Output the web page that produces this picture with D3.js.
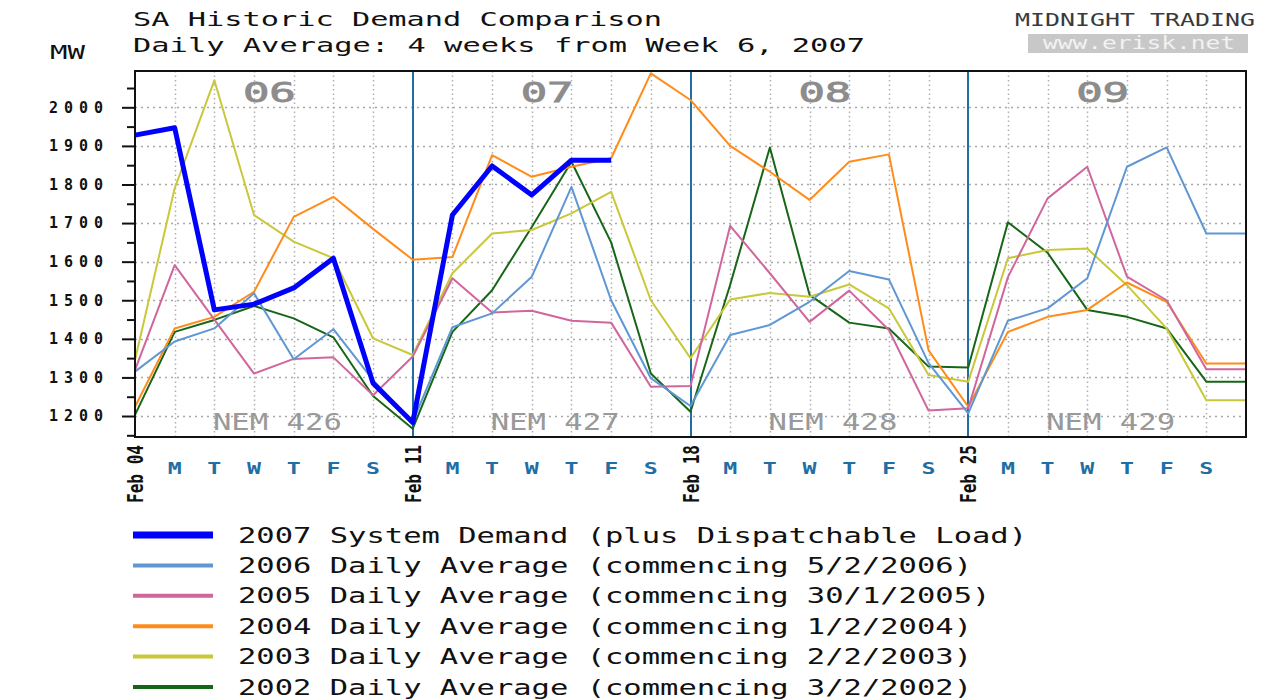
<!DOCTYPE html>
<html lang="en">
<head>
<meta charset="utf-8">
<title>SA Historic Demand Comparison</title>
<script src="https://d3js.org/d3.v7.min.js"></script>
<style>
  body { margin: 0; background: #fff; }
  text { font-family: "DejaVu Sans Mono", "Liberation Mono", monospace; }
</style>
</head>
<body>
<script>
var w = 1273, h = 699;
var plot = {left: 135, right: 1246, top: 71, bottom: 437};

// categories / labels
var dayCount = 28;
var weekStarts = ["Feb 04", "Feb 11", "Feb 18", "Feb 25"];
var weekNumbers = ["06", "07", "08", "09"];
var nemWeeks = ["NEM 426", "NEM 427", "NEM 428", "NEM 429"];
var dayLetters = ["M", "T", "W", "T", "F", "S"];
var yTicks = [1200, 1300, 1400, 1500, 1600, 1700, 1800, 1900, 2000];
var yMinorTicks = [1150, 1250, 1350, 1450, 1550, 1650, 1750, 1850, 1950, 2050];

// daily averages (MW), one value per day from the Sunday of each week
var demand2007 = [1928, 1947, 1475, 1490, 1532, 1609, 1285, 1183, 1721, 1848, 1773, 1863, 1863];
var avg2006 = [1315, 1393, 1427, 1518, 1347, 1425, 1293, 1185, 1430, 1466, 1561, 1794, 1500, 1298,
               1226, 1410, 1436, 1496, 1576, 1554, 1337, 1207, 1447, 1479, 1557, 1846, 1896, 1673];
var avg2005 = [1319, 1591, 1450, 1310, 1348, 1352, 1254, 1354, 1557, 1468, 1473, 1447, 1442, 1276,
               1278, 1693, 1570, 1444, 1525, 1423, 1214, 1220, 1560, 1764, 1846, 1561, 1500, 1321];
var avg2004 = [1224, 1427, 1457, 1522, 1716, 1768, 1685, 1605, 1612, 1876, 1820, 1846, 1868, 2088,
               2019, 1900, 1833, 1760, 1859, 1878, 1370, 1224, 1418, 1457, 1475, 1546, 1496, 1336];
var avg2003 = [1345, 1790, 2070, 1721, 1652, 1609, 1401, 1358, 1570, 1673, 1682, 1725, 1781, 1500,
               1350, 1502, 1519, 1509, 1541, 1479, 1306, 1289, 1609, 1630, 1634, 1539, 1427, 1241];
var avg2002 = [1203, 1418, 1449, 1485, 1453, 1404, 1252, 1167, 1418, 1526, 1690, 1859, 1650, 1310,
               1211, 1540, 1896, 1514, 1442, 1427, 1328, 1326, 1702, 1623, 1475, 1457, 1427, 1289];

var legendLabels = [
  "2007 System Demand (plus Dispatchable Load)",
  "2006 Daily Average (commencing 5/2/2006)",
  "2005 Daily Average (commencing 30/1/2005)",
  "2004 Daily Average (commencing 1/2/2004)",
  "2003 Daily Average (commencing 2/2/2003)",
  "2002 Daily Average (commencing 3/2/2002)"
];
var seriesValues = [demand2007, avg2006, avg2005, avg2004, avg2003, avg2002];
var seriesColors = ["#0000ff", "#5f97d3", "#d0669c", "#ff8c1a", "#c8c83a", "#176617"];
var seriesWidths = [5, 2, 2, 2, 2, 2];
var legendWidths = [7, 4, 4, 4, 4, 4];

var x = d3.scaleLinear().domain([0, dayCount]).range([plot.left, plot.right]);
var y = d3.scaleLinear().domain([1145.6, 2094.1]).range([plot.bottom, plot.top]);

var svg = d3.select("body").append("svg")
    .attr("width", w)
    .attr("height", h);

svg.append("rect").attr("width", w).attr("height", h).attr("fill", "#fff");

// titles
svg.append("text").attr("x", 133).attr("y", 26)
    .attr("font-size", 20).attr("fill", "#111")
    .attr("textLength", 529).attr("lengthAdjust", "spacingAndGlyphs")
    .text("SA Historic Demand Comparison");
svg.append("text").attr("x", 133).attr("y", 51.5)
    .attr("font-size", 20).attr("fill", "#111")
    .attr("textLength", 732).attr("lengthAdjust", "spacingAndGlyphs")
    .text("Daily Average: 4 weeks from Week 6, 2007");
svg.append("text").attr("x", 50).attr("y", 58.5)
    .attr("font-size", 19).attr("fill", "#111")
    .attr("textLength", 35).attr("lengthAdjust", "spacingAndGlyphs")
    .text("MW");

svg.append("text").attr("x", 1015).attr("y", 25.5)
    .attr("font-size", 17).attr("fill", "#3a3a3a")
    .attr("textLength", 240).attr("lengthAdjust", "spacingAndGlyphs")
    .text("MIDNIGHT TRADING");
svg.append("rect").attr("x", 1028).attr("y", 34).attr("width", 220).attr("height", 19)
    .attr("fill", "#c8c8c8");
svg.append("text").attr("x", 1043).attr("y", 48.5)
    .attr("font-size", 17).attr("fill", "#f2f2f2")
    .attr("textLength", 192).attr("lengthAdjust", "spacingAndGlyphs")
    .text("www.erisk.net");

// grid
var grid = svg.append("g");
grid.selectAll(".hg").data(yTicks).enter().append("line")
    .attr("x1", plot.left).attr("x2", plot.right)
    .attr("y1", function(d) { return Math.round(y(d)) + 0.5; })
    .attr("y2", function(d) { return Math.round(y(d)) + 0.5; })
    .attr("stroke", "#a8a8a8").attr("stroke-width", 1.5).attr("stroke-dasharray", "2,4");
grid.selectAll(".vg").data(d3.range(1, dayCount).filter(function(d) { return d % 7 != 0; }))
    .enter().append("line")
    .attr("x1", function(d) { return Math.round(x(d)) + 0.5; })
    .attr("x2", function(d) { return Math.round(x(d)) + 0.5; })
    .attr("y1", plot.top).attr("y2", plot.bottom)
    .attr("stroke", "#b0b0b0").attr("stroke-width", 1.5).attr("stroke-dasharray", "1.5,3");

// week labels
svg.selectAll(".wk").data(weekNumbers).enter().append("text")
    .attr("x", function(d, i) { return x(i * 7 + 3.5) - 31; })
    .attr("y", 101.5)
    .attr("font-size", 27).attr("fill", "#8c8c8c")
    .attr("stroke", "#8c8c8c").attr("stroke-width", 0.8)
    .attr("textLength", 53).attr("lengthAdjust", "spacingAndGlyphs")
    .text(function(d) { return d; });
svg.selectAll(".nem").data(nemWeeks).enter().append("text")
    .attr("x", function(d, i) { return x(i * 7 + 3.5) - 61; })
    .attr("y", 430)
    .attr("font-size", 23).attr("fill", "#999")
    .attr("textLength", 129).attr("lengthAdjust", "spacingAndGlyphs")
    .text(function(d) { return d; });

// week boundaries
svg.selectAll(".wb").data([7, 14, 21]).enter().append("line")
    .attr("x1", function(d) { return Math.round(x(d)); })
    .attr("x2", function(d) { return Math.round(x(d)); })
    .attr("y1", plot.top).attr("y2", plot.bottom)
    .attr("stroke", "#1f6fa5").attr("stroke-width", 2);

// series, oldest first so 2007 sits on top
var line = d3.line()
    .x(function(d, i) { return x(i); })
    .y(function(d) { return y(d); });
var order = [5, 4, 3, 2, 1, 0];
order.forEach(function(k) {
  var vals = seriesValues[k];
  var pts = vals.length == dayCount ? vals.concat([vals[vals.length - 1]]) : vals;
  svg.append("path")
      .datum(pts)
      .attr("d", line)
      .attr("fill", "none")
      .attr("stroke", seriesColors[k])
      .attr("stroke-width", seriesWidths[k])
      .attr("stroke-linejoin", "round");
});

// frame
svg.append("rect")
    .attr("x", plot.left).attr("y", plot.top)
    .attr("width", plot.right - plot.left).attr("height", plot.bottom - plot.top)
    .attr("fill", "none").attr("stroke", "#111").attr("stroke-width", 2);

// y axis
var yAxis = d3.axisLeft(y).tickValues(yTicks).tickSize(13).tickPadding(21)
    .tickFormat(d3.format("d"));
var yMinor = d3.axisLeft(y).tickValues(yMinorTicks).tickSize(8).tickFormat("");
var gy = svg.append("g").attr("transform", "translate(" + plot.left + ",0)").call(yAxis);
var gym = svg.append("g").attr("transform", "translate(" + plot.left + ",0)").call(yMinor);
[gy, gym].forEach(function(g) {
  g.select(".domain").remove();
  g.selectAll("line").attr("stroke", "#111").attr("stroke-width", 2);
});
gy.selectAll("text")
    .attr("font-family", "DejaVu Sans Mono")
    .attr("font-size", 15).attr("font-weight", "bold").attr("fill", "#111")
    .attr("text-anchor", "middle")
    .attr("x", -56)
    .style("letter-spacing", "6px");

// x axis: dates at week starts, day letters between
svg.selectAll(".dt").data(weekStarts).enter().append("text")
    .attr("transform", function(d, i) {
      return "translate(" + (x(i * 7) + 8) + ",445) rotate(-90)";
    })
    .attr("text-anchor", "end")
    .attr("font-size", 22).attr("font-weight", "bold").attr("fill", "#111")
    .attr("textLength", 58).attr("lengthAdjust", "spacingAndGlyphs")
    .text(function(d) { return d; });
var dayData = [];
weekStarts.forEach(function(s, wi) {
  dayLetters.forEach(function(l, di) { dayData.push({day: wi * 7 + di + 1, letter: l}); });
});
svg.selectAll(".dl").data(dayData).enter().append("text")
    .attr("x", function(d) { return x(d.day) - 7; })
    .attr("y", 474)
    .attr("font-size", 16).attr("font-weight", "bold").attr("fill", "#1f6fa5")
    .attr("textLength", 14).attr("lengthAdjust", "spacingAndGlyphs")
    .text(function(d) { return d.letter; });

// legend
var legend = svg.selectAll(".lg").data(legendLabels).enter().append("g")
    .attr("transform", function(d, i) { return "translate(0," + (535 + i * 30.4) + ")"; });
legend.append("line")
    .attr("x1", 133).attr("x2", 213)
    .attr("stroke", function(d, i) { return seriesColors[i]; })
    .attr("stroke-width", function(d, i) { return legendWidths[i]; });
legend.append("text")
    .attr("x", 238).attr("y", 7.5)
    .attr("font-size", 21).attr("fill", "#111")
    .attr("textLength", function(d) { return d.length * 18.35; })
    .attr("lengthAdjust", "spacingAndGlyphs")
    .text(function(d) { return d; });
</script>
</body>
</html>
